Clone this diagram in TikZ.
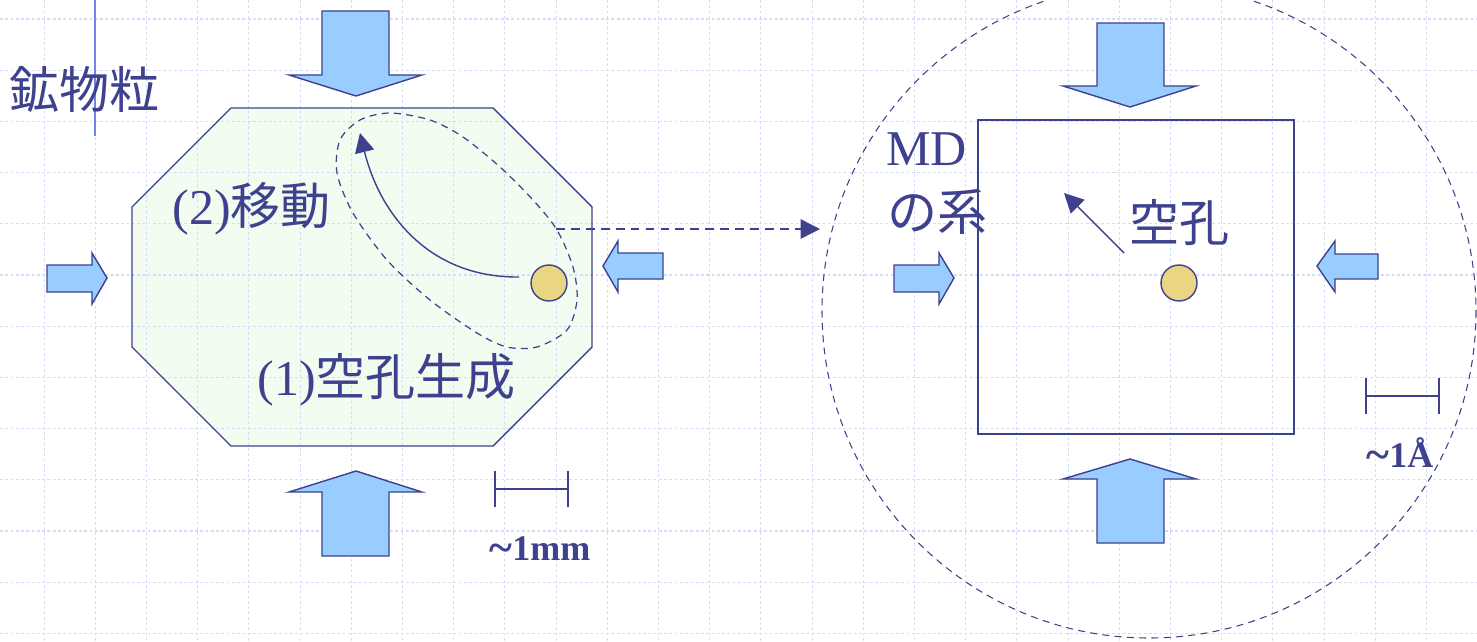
\documentclass[tikz,border=0pt]{standalone}
\usepackage{fontspec}
\setmainfont{Liberation Serif}
\newfontfamily\jp{Noto Sans CJK JP}
\usetikzlibrary{arrows.meta}

\definecolor{ink}{RGB}{62,66,142}
\definecolor{pressblue}{RGB}{153,204,255}
\definecolor{vacyellow}{RGB}{234,213,130}
\definecolor{gridblue}{RGB}{212,220,250}
\definecolor{grainfill}{RGB}{243,252,240}
\definecolor{cursorblue}{RGB}{112,132,236}

\newcommand{\wave}{{\fontsize{25}{25}\selectfont\raisebox{-1.5pt}{\textasciitilde}}}

\tikzset{
  bggrid/.style={gridblue, line width=0.6pt, dash pattern=on 1.6pt off 1.4pt},
  press/.style={draw=ink, line width=0.8pt, fill=pressblue, line join=miter},
  outline/.style={draw=ink, line width=0.8pt},
  vacancy/.style={circle, draw=ink, line width=0.8pt, fill=vacyellow, minimum size=0.72cm, inner sep=0pt},
  hop/.style={ink, line width=0.8pt, -{Triangle[length=11pt,width=11pt]}},
  zoomline/.style={ink, line width=0.8pt, dash pattern=on 5pt off 3.5pt, -{Triangle[length=11pt,width=11pt]}},
  txt/.style={text=ink, inner sep=0pt, font=\fontsize{28.5}{34}\selectfont},
  scaletxt/.style={text=ink, inner sep=0pt, font=\bfseries\fontsize{20.5}{24}\selectfont}
}

\begin{document}
\begin{tikzpicture}[x=0.02cm,y=-0.02cm]
\useasboundingbox (0,0) rectangle (1477,642);
\fill[white] (0,0) rectangle (1477,642);
\fill[grainfill] (231,108) -- (493,108) -- (592,207) -- (592,347) -- (493,446) -- (231,446) -- (132,347) -- (132,207) -- cycle;
\begin{scope}
\clip (0,0) rectangle (1477,642);
\foreach \i in {0,...,28} \draw[bggrid] ({44.1+51.2*\i},0) -- ({44.1+51.2*\i},642);
\foreach \j in {0,...,12} \draw[bggrid] (0,{19+51.2*\j}) -- (1477,{19+51.2*\j});
\draw[cursorblue, line width=0.8pt] (95,0) -- (95,136);
\draw[ink, line width=0.6pt, dash pattern=on 4pt off 3pt] (1149,311) circle[radius=327];
\end{scope}

\draw[outline] (231,108) -- (493,108) -- (592,207) -- (592,347) -- (493,446) -- (231,446) -- (132,347) -- (132,207) -- cycle;
\draw[ink, line width=0.7pt, dash pattern=on 4pt off 3pt] plot[smooth cycle] coordinates {(390,113) (430,120) (463,137) (500,167) (533,200) (557,230) (573,267) (577,300) (567,330) (537,347) (507,347) (477,333) (430,300) (387,260) (353,213) (337,173) (340,140) (360,120)};

\draw[press] (322,11) -- (389,11) -- (389,75) -- (422,75) -- (356,96) -- (289,75) -- (322,75) -- cycle;
\draw[press] (356,471) -- (422,492) -- (389,492) -- (389,556) -- (322,556) -- (322,492) -- (289,492) -- cycle;
\draw[press] (47,265) -- (92,265) -- (92,253) -- (107,278) -- (92,304) -- (92,292) -- (47,292) -- cycle;
\draw[press] (603,266) -- (618,241) -- (618,253) -- (663,253) -- (663,279) -- (618,279) -- (618,292) -- cycle;
\draw[press] (1097,23) -- (1164,23) -- (1164,86) -- (1196,86) -- (1130,107) -- (1063,86) -- (1097,86) -- cycle;
\draw[press] (1130,459) -- (1196,479) -- (1164,479) -- (1164,543) -- (1097,543) -- (1097,479) -- (1063,479) -- cycle;
\draw[press] (894,265) -- (939,265) -- (939,253) -- (954,278) -- (939,304) -- (939,292) -- (894,292) -- cycle;
\draw[press] (1317,266) -- (1335,241) -- (1335,254) -- (1378,254) -- (1378,279) -- (1335,279) -- (1335,292) -- cycle;

\draw[outline] (978,120) rectangle (1294,434);

\node[vacancy] (vacL) at (549,283) {};
\node[vacancy] (vacR) at (1179,283) {};
\coordinate (hopL) at (519,277);
\coordinate (hopLend) at (360,133);
\draw[hop] (hopL) .. controls (430,278) and (380,215) .. (hopLend);
\coordinate (hopR) at (1124,253);
\coordinate (hopRend) at (1064,193);
\draw[hop] (hopR) -- (hopRend);
\coordinate (zoomfrom) at (556,229);
\coordinate (zoomto) at (820,229);
\draw[zoomline] (zoomfrom) -- (zoomto);

\draw[outline] (495,471) -- (495,507) (568,471) -- (568,507) (495,489) -- (568,489);
\draw[outline] (1366,378) -- (1366,414) (1439,378) -- (1439,414) (1366,396) -- (1439,396);

\node[txt, anchor=base west] (grain) at (9,109) {\jp 鉱物粒};
\node[txt, anchor=base west] (move) at (172,224) {(2){\jp 移動}};
\node[txt, anchor=base west] (create) at (257,395) {(1){\jp 空孔生成}};
\node[txt, anchor=base west] (md) at (886,165) {MD};
\node[txt, anchor=base west] (mdsys) at (887,230) {\jp の系};
\node[txt, anchor=base west] (vactxt) at (1129,241) {\jp 空孔};
\node[scaletxt, anchor=base] (mm) at (540,560) {\wave1mm};
\node[scaletxt, anchor=base] (ang) at (1400,467) {\wave1Å};
\end{tikzpicture}
\end{document}
